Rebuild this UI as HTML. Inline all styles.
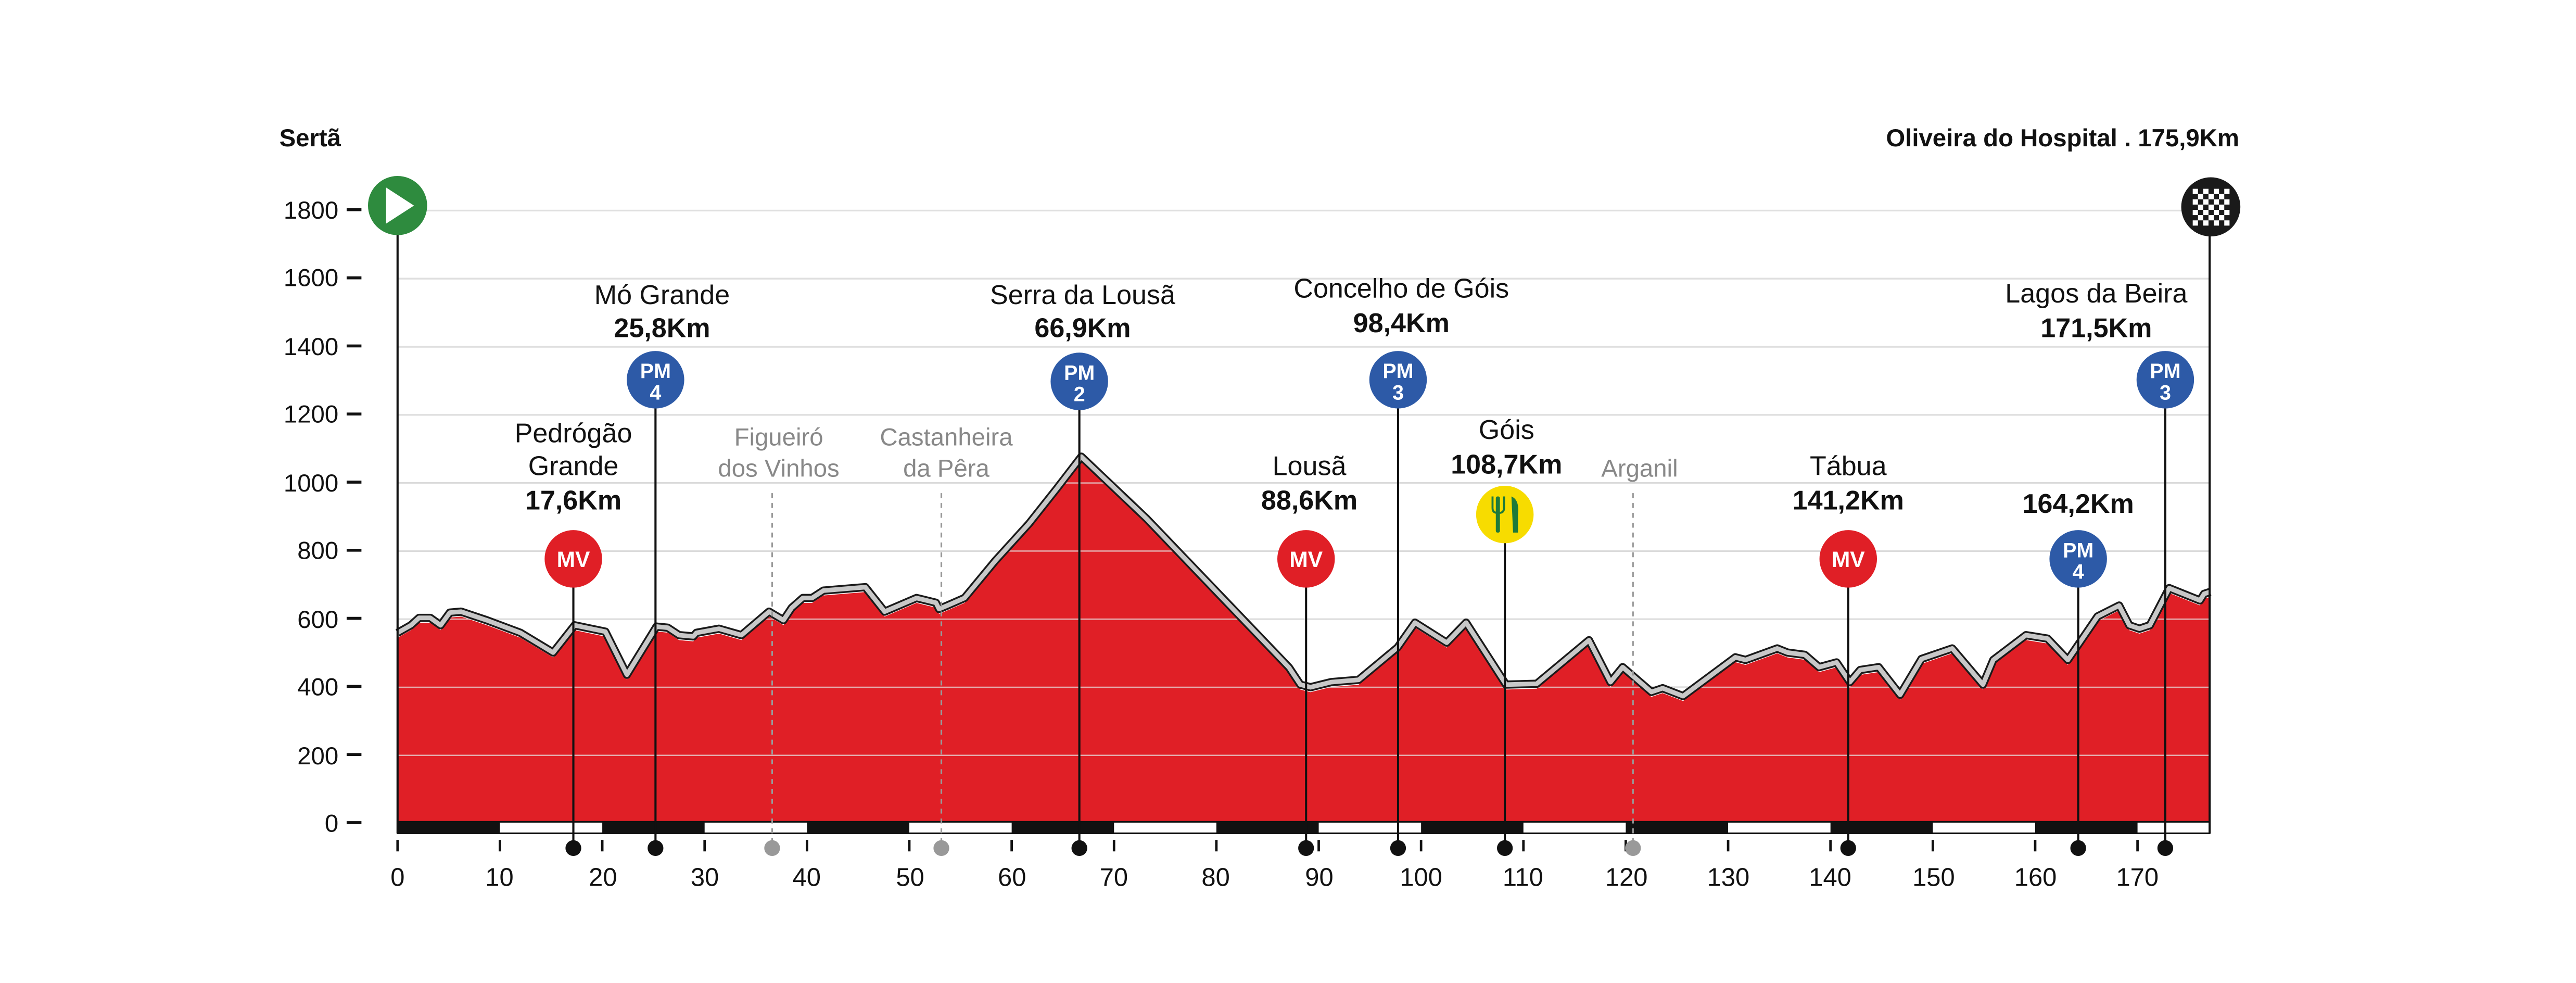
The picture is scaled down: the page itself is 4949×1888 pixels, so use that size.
<!DOCTYPE html>
<html><head><meta charset="utf-8"><style>
html,body{margin:0;padding:0;background:#fff;}
svg{display:block;}
text{font-family:"Liberation Sans",sans-serif;}
</style></head><body>
<svg id="s" width="4949" height="1888" viewBox="0 0 1568 598" xmlns="http://www.w3.org/2000/svg">
<g id="grid" stroke="#d0d0d0" stroke-width="1"></g>
<g id="prof"></g>
<g id="axis"></g>
<g font-size="15" text-anchor="end" fill="#111">
<text x="206" y="506">0</text><text x="206" y="465">200</text><text x="206" y="423">400</text><text x="206" y="382">600</text><text x="206" y="340">800</text><text x="206" y="299">1000</text><text x="206" y="257">1200</text><text x="206" y="216">1400</text><text x="206" y="174">1600</text><text x="206" y="133">1800</text>
</g>
<g font-size="15.5" text-anchor="middle" fill="#111">
<text x="242" y="539">0</text><text x="304" y="539">10</text><text x="367" y="539">20</text><text x="429" y="539">30</text><text x="491" y="539">40</text><text x="554" y="539">50</text><text x="616" y="539">60</text><text x="678" y="539">70</text><text x="740" y="539">80</text><text x="803" y="539">90</text><text x="865" y="539">100</text><text x="927" y="539">110</text><text x="990" y="539">120</text><text x="1052" y="539">130</text><text x="1114" y="539">140</text><text x="1177" y="539">150</text><text x="1239" y="539">160</text><text x="1301" y="539">170</text>
</g>
<g id="marks"></g>
<g font-size="16.5" text-anchor="middle" fill="#111">
<text x="170" y="89" text-anchor="start" font-weight="bold" font-size="15">Sertã</text>
<text x="1363" y="89" text-anchor="end" font-weight="bold" font-size="15">Oliveira do Hospital . 175,9Km</text>
<text x="403" y="185">Mó Grande</text><text x="403" y="205" font-weight="bold">25,8Km</text>
<text x="349" y="269">Pedrógão</text><text x="349" y="289">Grande</text><text x="349" y="310" font-weight="bold">17,6Km</text>
<text x="474" y="271" fill="#888" font-size="15">Figueiró</text><text x="474" y="290" fill="#888" font-size="15">dos Vinhos</text>
<text x="576" y="271" fill="#888" font-size="15">Castanheira</text><text x="576" y="290" fill="#888" font-size="15">da Pêra</text>
<text x="659" y="185">Serra da Lousã</text><text x="659" y="205" font-weight="bold">66,9Km</text>
<text x="797" y="289">Lousã</text><text x="797" y="310" font-weight="bold">88,6Km</text>
<text x="853" y="181">Concelho de Góis</text><text x="853" y="202" font-weight="bold">98,4Km</text>
<text x="917" y="267">Góis</text><text x="917" y="288" font-weight="bold">108,7Km</text>
<text x="998" y="290" fill="#888" font-size="15">Arganil</text>
<text x="1125" y="289">Tábua</text><text x="1125" y="310" font-weight="bold">141,2Km</text>
<text x="1265" y="312" font-weight="bold">164,2Km</text>
<text x="1276" y="184">Lagos da Beira</text><text x="1276" y="205" font-weight="bold">171,5Km</text>
</g>
<g font-size="13.5" font-weight="bold" text-anchor="middle" fill="#fff">
<text x="349" y="345">MV</text><text x="795" y="345">MV</text><text x="1125" y="345">MV</text>
<text x="399" y="230" font-size="12.5">PM</text><text x="399" y="243" font-size="12.5">4</text>
<text x="657" y="231" font-size="12.5">PM</text><text x="657" y="244" font-size="12.5">2</text>
<text x="851" y="230" font-size="12.5">PM</text><text x="851" y="243" font-size="12.5">3</text>
<text x="1265" y="339" font-size="12.5">PM</text><text x="1265" y="352" font-size="12.5">4</text>
<text x="1318" y="230" font-size="12.5">PM</text><text x="1318" y="243" font-size="12.5">3</text>
</g>
</svg>
<script>
var NS="http://www.w3.org/2000/svg";
function el(p,t,a){var e=document.createElementNS(NS,t);for(var k in a)e.setAttribute(k,a[k]);document.getElementById(p).appendChild(e);return e;}
function X(km){return 242+km*6.23;}
function Y(m){return 501-m*0.2072;}
for(var i=1;i<=9;i++){var y=Y(i*200);el("grid","line",{x1:242,x2:1345,y1:y,y2:y});}
var d=[[0,560],[1.3,582],[2.1,604],[3.2,604],[4.2,582],[5.1,619],[6.2,622],[8.7,597],[12,560],[15.2,502],[17.3,582],[20.3,563],[22.4,437],[25.3,578],[26.4,575],[27.5,553],[28.9,549],[29.2,560],[31.4,572],[33.6,553],[36.3,622],[37.7,597],[38.5,633],[39.6,662],[40.5,662],[41.6,684],[45.7,694],[47.6,622],[50.7,662],[52.6,648],[52.9,630],[53.7,640],[55.4,662],[58.4,771],[61.7,881],[64.4,983],[66.8,1077],[73.2,895],[87.1,458],[88.2,408],[89.2,400],[91.2,415],[93.9,422],[97.7,517],[99.4,590],[102.5,531],[104.4,590],[108.3,408],[111.3,410],[116.4,538],[118.5,415],[119.7,459],[122.5,386],[123.6,397],[125.6,374],[130.7,488],[131.7,480],[134.8,514],[135.8,502],[137.5,495],[138.9,459],[140.6,473],[141.9,415],[142.9,451],[144.7,459],[146.8,378],[148.9,483],[151.9,514],[154.9,408],[155.9,480],[159.1,553],[161.2,543],[163.2,480],[166.1,608],[168.2,640],[169.2,582],[170.2,572],[171.2,582],[173.1,691],[176.1,655],[176.5,674],[177.1,680]];
var pts=d.map(function(p){return X(p[0]).toFixed(1)+","+Y(p[1]).toFixed(1);});
var fillPts=d.map(function(p){return X(p[0]).toFixed(1)+","+(Y(p[1])+3).toFixed(1);});
el("prof","polygon",{points:"242,501 "+fillPts.join(" ")+" 1345,501",fill:"#e01f26"});
for(var i=1;i<=9;i++){var y=Y(i*200);el("prof","line",{x1:242,x2:1345,y1:y,y2:y,stroke:"#e6e6e6","stroke-opacity":0.7,"stroke-width":0.8});}
el("prof","polyline",{points:pts.join(" "),fill:"none",stroke:"#1a1a1a","stroke-width":5,"stroke-linejoin":"round"});
el("prof","polyline",{points:pts.join(" "),fill:"none",stroke:"#c8c8c8","stroke-width":2.8,"stroke-linejoin":"round"});
el("axis","rect",{x:242,y:500,width:1103,height:7,fill:"#fff",stroke:"#111","stroke-width":1});
for(var k=0;k<18;k+=2){var x1=X(k*10),x2=Math.min(X(k*10+10),1345);el("axis","rect",{x:x1,y:500,width:x2-x1,height:7,fill:"#111"});}
for(var k=0;k<=170;k+=10){el("axis","line",{x1:X(k),x2:X(k),y1:511,y2:518,stroke:"#111","stroke-width":1.5});}
for(var i=0;i<=9;i++){var y=Y(i*200)-0.5;el("axis","line",{x1:211,x2:220,y1:y,y2:y,stroke:"#111","stroke-width":1.8});}
function vline(x,y1,dash,col,nodot){el("marks","line",{x1:x,x2:x,y1:y1,y2:nodot?507:516,stroke:col||"#111","stroke-width":dash?1:1.3,"stroke-dasharray":dash?"3,3":"none"});if(!nodot)el("marks","circle",{cx:x,cy:516,r:4.8,fill:col||"#111"});}
vline(242,125,false,null,true);vline(1345,126,false,null,true);
var m=[[349,340,"#e01f26"],[399,231,"#2d5aa7"],[657,232,"#2d5aa7"],[795,340,"#e01f26"],[851,231,"#2d5aa7"],[916,313,"#f7dc00"],[1125,340,"#e01f26"],[1265,340,"#2d5aa7"],[1318,231,"#2d5aa7"]];
m.forEach(function(a){vline(a[0],a[1]);el("marks","circle",{cx:a[0],cy:a[1],r:17.5,fill:a[2]});});
vline(470,300,true,"#999");vline(573,300,true,"#999");vline(994,300,true,"#999");
el("marks","rect",{x:910.5,y:302,width:2.5,height:22,fill:"#1e7a3a",rx:1});
el("marks","path",{d:"M908.5 302 v7 q0 3 3 3 h1 q3 0 3-3 v-7",fill:"none",stroke:"#1e7a3a","stroke-width":1.2});
el("marks","path",{d:"M920 302 q5 2 4 11 v11 h-3z",fill:"#1e7a3a"});
el("marks","circle",{cx:242,cy:125,r:18,fill:"#2e8b3e"});
el("marks","polygon",{points:"235,114 252,125 235,136",fill:"#fff"});
el("marks","circle",{cx:1345.7,cy:125.8,r:18,fill:"#1a1a1a"});
for(var r=0;r<7;r++)for(var c=0;c<7;c++){if((r+c)%2==0)el("marks","rect",{x:1334.7+c*3.2,y:114.8+r*3.2,width:3.2,height:3.2,fill:"#fff"});}
</script>
</body></html>
